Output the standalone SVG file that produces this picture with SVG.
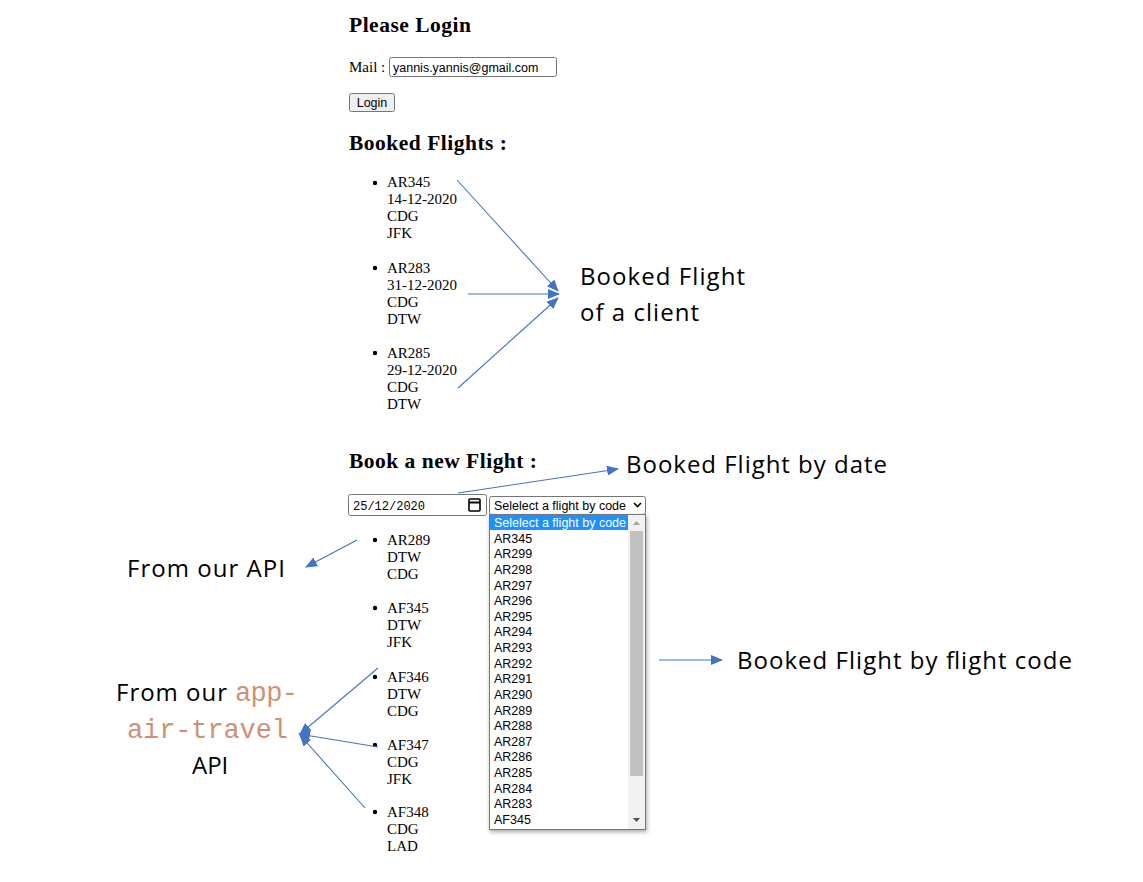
<svg xmlns="http://www.w3.org/2000/svg" width="1143" height="882" viewBox="0 0 1143 882">
<style>
.h{font-family:"Liberation Serif",serif;font-weight:bold;font-size:21.5px;fill:#000}
.s{font-family:"Liberation Serif",serif;font-size:15px;fill:#000}
.ui{font-family:"Liberation Sans",Arial,sans-serif;font-size:12.5px;fill:#000}
.ann{font-family:"Open Sans","Noto Sans",sans-serif;font-size:24px;fill:#000}
.mono{font-family:"Liberation Mono","DejaVu Sans Mono",monospace;font-size:27px;fill:#CE9178}
.con{stroke:#4472C4;stroke-width:1.1;fill:none;marker-end:url(#ah)}
.box{fill:#fff;stroke:#767676;stroke-width:1}
.li{font-family:"Liberation Sans",Arial,sans-serif;font-size:12.5px;fill:#000}
</style>
<defs>
<marker id="ah" markerUnits="userSpaceOnUse" markerWidth="12" markerHeight="10" refX="11" refY="5" orient="auto">
<path d="M0,0 L12,5 L0,10 z" fill="#4472C4"/>
</marker>
<filter id="sh" x="-10%" y="-5%" width="125%" height="115%">
<feDropShadow dx="1" dy="2" stdDeviation="2" flood-color="#000" flood-opacity="0.35"/>
</filter>
</defs>
<rect width="1143" height="882" fill="#fff"/>

<g id="login">
<text class="h" x="349" y="32" textLength="122">Please Login</text>
<text class="s" x="349" y="72">Mail :</text>
<rect class="box" x="389.5" y="57.5" width="167" height="19" rx="2"/>
<text class="ui" x="393" y="71.5">yannis.yannis@gmail.com</text>
<rect x="349.5" y="93.5" width="45" height="18" rx="2" fill="#efefef" stroke="#767676"/>
<text class="ui" x="372" y="106.5" text-anchor="middle">Login</text>
</g>

<g id="booked">
<text class="h" x="349" y="150" textLength="158">Booked Flights :</text>
<circle cx="375" cy="183" r="2.2"/>
<text class="s" x="387" y="187">AR345</text>
<text class="s" x="387" y="204">14-12-2020</text>
<text class="s" x="387" y="221">CDG</text>
<text class="s" x="387" y="238">JFK</text>
<circle cx="375" cy="268" r="2.2"/>
<text class="s" x="387" y="273">AR283</text>
<text class="s" x="387" y="290">31-12-2020</text>
<text class="s" x="387" y="307">CDG</text>
<text class="s" x="387" y="324">DTW</text>
<circle cx="375" cy="353" r="2.2"/>
<text class="s" x="387" y="358">AR285</text>
<text class="s" x="387" y="375">29-12-2020</text>
<text class="s" x="387" y="392">CDG</text>
<text class="s" x="387" y="409">DTW</text>
</g>

<g id="label-client">
<text class="ann" x="580" y="285" textLength="165">Booked Flight</text>
<text class="ann" x="580" y="321" textLength="119">of a client</text>
</g>

<g id="newflight">
<text class="h" x="349" y="468" textLength="188">Book a new Flight :</text>
<rect class="box" x="348.5" y="494.5" width="138" height="21" rx="2"/>
<text font-family="Liberation Mono,monospace" font-size="12" x="353" y="509.5">25/12/2020</text>
<rect x="469" y="499" width="11" height="12" rx="1" fill="none" stroke="#000" stroke-width="1.6"/>
<line x1="469" y1="502.5" x2="480" y2="502.5" stroke="#000" stroke-width="2"/>
<rect class="box" x="489.5" y="496.5" width="156" height="18" rx="2"/>
<text class="ui" x="494" y="510">Selelect a flight by code</text>
<path d="M634,503 L637.5,506.5 L641,503" fill="none" stroke="#000" stroke-width="1.6"/>
</g>

<g id="dropdown">
<rect x="489.5" y="514.5" width="156" height="315" fill="#fff" stroke="#767676" filter="url(#sh)"/>
<rect x="490" y="515" width="138" height="15" fill="#1E90FF"/>
<text class="li" x="494" y="527" style="fill:#fff">Selelect a flight by code</text>
<rect x="628" y="515" width="17" height="314" fill="#f1f1f1"/>
<rect x="630" y="531" width="13" height="245" fill="#c1c1c1"/>
<path d="M633,525 L636.5,521 L640,525 z" fill="#a3a3a3"/>
<path d="M633,818 L636.5,822 L640,818 z" fill="#505050"/>
<text class="li" x="494" y="542.6">AR345</text>
<text class="li" x="494" y="558.3">AR299</text>
<text class="li" x="494" y="573.9">AR298</text>
<text class="li" x="494" y="589.5">AR297</text>
<text class="li" x="494" y="605.1">AR296</text>
<text class="li" x="494" y="620.8">AR295</text>
<text class="li" x="494" y="636.4">AR294</text>
<text class="li" x="494" y="652.0">AR293</text>
<text class="li" x="494" y="667.6">AR292</text>
<text class="li" x="494" y="683.3">AR291</text>
<text class="li" x="494" y="698.9">AR290</text>
<text class="li" x="494" y="714.5">AR289</text>
<text class="li" x="494" y="730.1">AR288</text>
<text class="li" x="494" y="745.8">AR287</text>
<text class="li" x="494" y="761.4">AR286</text>
<text class="li" x="494" y="777.0">AR285</text>
<text class="li" x="494" y="792.6">AR284</text>
<text class="li" x="494" y="808.3">AR283</text>
<text class="li" x="494" y="823.9">AF345</text>
</g>

<g id="results">
<circle cx="375" cy="540" r="2.2"/>
<text class="s" x="387" y="545">AR289</text>
<text class="s" x="387" y="562">DTW</text>
<text class="s" x="387" y="579">CDG</text>
<circle cx="375" cy="608" r="2.2"/>
<text class="s" x="387" y="613">AF345</text>
<text class="s" x="387" y="630">DTW</text>
<text class="s" x="387" y="647">JFK</text>
<circle cx="375" cy="677" r="2.2"/>
<text class="s" x="387" y="682">AF346</text>
<text class="s" x="387" y="699">DTW</text>
<text class="s" x="387" y="716">CDG</text>
<circle cx="375" cy="745" r="2.2"/>
<text class="s" x="387" y="750">AF347</text>
<text class="s" x="387" y="767">CDG</text>
<text class="s" x="387" y="784">JFK</text>
<circle cx="375" cy="812" r="2.2"/>
<text class="s" x="387" y="817">AF348</text>
<text class="s" x="387" y="834">CDG</text>
<text class="s" x="387" y="851">LAD</text>
</g>

<g id="label-date">
<text class="ann" x="626" y="473" textLength="261">Booked Flight by date</text>
</g>
<g id="label-code">
<text class="ann" x="737" y="669" textLength="335">Booked Flight by flight code</text>
</g>
<g id="label-api">
<text class="ann" x="127" y="577" textLength="158">From our API</text>
</g>
<g id="label-app">
<text class="ann" x="116" y="701" textLength="111">From our</text>
<text class="mono" x="235" y="701" textLength="63">app-</text>
<text class="mono" x="127" y="738" textLength="161">air-travel</text>
<text class="ann" x="192" y="774">API</text>
</g>

<g id="connectors">
<line class="con" x1="457" y1="180" x2="558" y2="291"/>
<line class="con" x1="468" y1="294" x2="559" y2="294"/>
<line class="con" x1="458" y1="388" x2="558" y2="298"/>
<line class="con" x1="458" y1="493" x2="618" y2="469"/>
<line class="con" x1="659" y1="660" x2="722" y2="660"/>
<line class="con" x1="357" y1="540" x2="306" y2="567"/>
<line class="con" x1="378" y1="668" x2="300" y2="734"/>
<line class="con" x1="378" y1="747" x2="299" y2="734"/>
<line class="con" x1="365" y1="808" x2="300" y2="735"/>
</g>
</svg>
